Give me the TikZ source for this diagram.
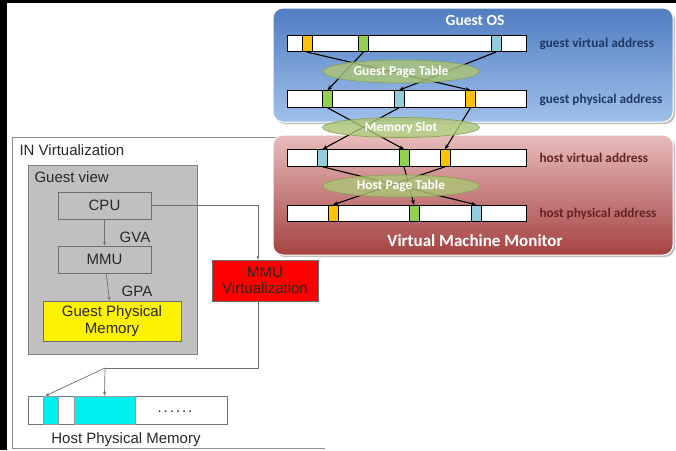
\documentclass[tikz,border=0pt]{standalone}
\usepackage{fontspec}
\setmainfont{Liberation Sans}
\newfontfamily\carl{Carlito}
\usetikzlibrary{shapes.geometric,arrows.meta,shadows}
\definecolor{orgc}{RGB}{255,192,0}
\definecolor{grnc}{RGB}{146,208,80}
\definecolor{bluc}{RGB}{146,205,221}
\definecolor{bluetop}{RGB}{80,126,194}
\definecolor{bluebot}{RGB}{160,192,234}
\definecolor{redtop}{RGB}{232,188,188}
\definecolor{redbot}{RGB}{165,66,66}
\definecolor{ellfill}{RGB}{172,196,118}
\definecolor{elldraw}{RGB}{132,160,80}
\definecolor{glab}{RGB}{31,56,100}
\definecolor{hlab}{RGB}{99,37,35}
\definecolor{gvbg}{RGB}{192,192,192}
\definecolor{lgray}{RGB}{110,110,110}
\definecolor{cyanc}{RGB}{0,240,240}
\definecolor{ltext}{RGB}{40,40,40}
\tikzset{
  bar/.style={draw=black,line width=1pt,fill=white,minimum width=239pt,minimum height=16.5pt,inner sep=0pt},
  blk/.style={draw=black,line width=1pt,minimum width=10pt,minimum height=16.5pt,inner sep=0pt},
  maparr/.style={draw=black,line width=1.1pt,-{Stealth[length=5pt,width=4pt]}},
  mapell/.style={ellipse,draw=elldraw,line width=0.6pt,fill=ellfill,fill opacity=0.82,text opacity=1,
     inner sep=0pt,minimum width=157pt,text=white,font=\carl\bfseries\fontsize{13.5}{15}\selectfont},
  addrlab/.style={anchor=west,font=\carl\bfseries\fontsize{13.3}{15}\selectfont},
  ltxt/.style={text=ltext,font=\fontsize{15}{17}\selectfont},
  lbox/.style={draw=lgray,line width=0.7pt,inner sep=0pt,align=center,text=ltext,font=\fontsize{15}{16.5}\selectfont},
  larr/.style={draw=lgray,line width=0.7pt,-{Stealth[length=4pt,width=3pt]}},
  lline/.style={draw=lgray,line width=0.7pt}
}
\begin{document}
\begin{tikzpicture}[x=1pt,y=-1pt]
\useasboundingbox (0,0) rectangle (676,450);
\fill[black] (0,0) rectangle (676,450);
\fill[white] (7,3) rectangle (676,450);

% ---------- left: IN Virtualization frame ----------
\draw[draw=black!45,line width=0.8pt] (325,448) -- (12,448) -- (12,137) -- (290,137);
\node[ltxt,anchor=west] (invt) at (16,150) {IN Virtualization};

% Guest view
\node[draw=black!50,fill=gvbg,line width=0.7pt,minimum width=169pt,minimum height=189pt,inner sep=0pt] (gv) at (112.5,259.5) {};
\node[ltxt,anchor=west] (gvt) at (31,177) {Guest view};
\node[lbox,fill=gvbg,minimum width=93pt,minimum height=27pt] (cpu) at (104.5,205.5) {CPU};
\node[lbox,fill=gvbg,minimum width=93pt,minimum height=27pt] (mmu) at (104.5,259.5) {MMU};
\node[lbox,fill=yellow,minimum width=138pt,minimum height=40pt] (gpm) at (112,321) {Guest Physical\\Memory};
\draw[larr] (cpu) -- (mmu);
\draw[larr] (mmu) -- (gpm);
\node[ltxt] (gva) at (135,237) {GVA};
\node[ltxt] (gpa) at (137,291) {GPA};

% MMU Virtualization
\node[lbox,fill=red,text=black!85,minimum width=106pt,minimum height=41pt] (mmuv) at (265,280.5) {MMU\\Virtualization};
\draw[larr] (cpu.east) -| ([xshift=-7pt]mmuv.north);

% Host physical memory
\node[draw=black!55,line width=0.7pt,fill=white,minimum width=199pt,minimum height=28pt,inner sep=0pt] (hpm) at (127.5,410) {};
\node[draw=black!40,line width=0.5pt,fill=cyanc,minimum width=15pt,minimum height=28pt,inner sep=0pt] (hb1) at (50.5,410) {};
\node[draw=black!40,line width=0.5pt,fill=cyanc,minimum width=61pt,minimum height=28pt,inner sep=0pt] (hb2) at (104.5,410) {};
\node[ltxt] (dots) at (175,412) {.\kern2pt.\kern2pt.\kern2pt.\kern2pt.\kern2pt.};
\node[ltxt] (hpmt) at (126,440) {Host Physical Memory};
\coordinate (split) at (105,368);
\draw[lline] ([xshift=-7pt]mmuv.south) |- (split);
\draw[larr] (split) -- (hb2.north);
\draw[larr] (split) -- ([xshift=-5pt]hb1.north);

% ---------- right: Guest OS ----------
\fill[black!25,rounded corners=10pt] (275,10) rectangle (675,124);
\path[draw=white,line width=1pt,rounded corners=10pt,top color=bluetop,bottom color=bluebot] (273,8) rectangle (673,122);
\node[text=white,font=\carl\bfseries\fontsize{15.5}{17}\selectfont] (gos) at (475,20) {Guest OS};

% ---------- right: VMM ----------
\fill[black!25,rounded corners=10pt] (275,137) rectangle (675,257);
\path[draw=white,line width=1pt,rounded corners=10pt,top color=redtop,bottom color=redbot] (273,135) rectangle (673,255);
\node[text=white,font=\carl\bfseries\fontsize{17}{19}\selectfont] (vmm) at (475,241) {Virtual Machine Monitor};

% bars
\node[bar] (b1) at (406.5,43.3) {};
\node[bar] (b2) at (406.5,99) {};
\node[bar] (b3) at (406.5,158) {};
\node[bar] (b4) at (406.5,213.5) {};

\node[blk,fill=orgc] (b1o) at (307,43.3) {};
\node[blk,fill=grnc] (b1g) at (363.5,43.3) {};
\node[blk,fill=bluc] (b1b) at (496,43.3) {};

\node[blk,fill=grnc] (b2g) at (327.5,99) {};
\node[blk,fill=bluc] (b2b) at (399,99) {};
\node[blk,fill=orgc] (b2o) at (470.5,99) {};

\node[blk,fill=bluc] (b3b) at (322.5,158) {};
\node[blk,fill=grnc] (b3g) at (404,158) {};
\node[blk,fill=orgc] (b3o) at (445,158) {};

\node[blk,fill=orgc] (b4o) at (333,213.5) {};
\node[blk,fill=grnc] (b4g) at (414,213.5) {};
\node[blk,fill=bluc] (b4b) at (476,213.5) {};

% labels
\node[addrlab,text=glab] (l1) at (536,44) {guest virtual address};
\node[addrlab,text=glab] (l2) at (536,100) {guest physical address};
\node[addrlab,text=hlab] (l3) at (536,158) {host virtual address};
\node[addrlab,text=hlab] (l4) at (536,214) {host physical address};

% mappings
\draw[maparr] (b1o.south) -- (b2o.north);
\draw[maparr] (b1g.south) -- (b2g.north);
\draw[maparr] (b1b.south) -- (b2b.north);

\draw[maparr] (b2g.south) -- (b3g.north);
\draw[maparr] (b2b.south) -- (b3b.north);
\draw[maparr] (b2o.south) -- (b3o.north);

\draw[maparr] (b3b.south) -- (b4b.north);
\draw[maparr] (b3g.south) -- (b4g.north);
\draw[maparr] (b3o.south) -- (b4o.north);

% ellipses
\node[mapell,minimum height=23pt] (gpt) at (401,71.5) {Guest Page Table};
\node[mapell,minimum height=20pt] (ms) at (401,127.5) {Memory Slot};
\node[mapell,minimum height=22pt] (hpt) at (401,186) {Host Page Table};
\end{tikzpicture}
\end{document}
